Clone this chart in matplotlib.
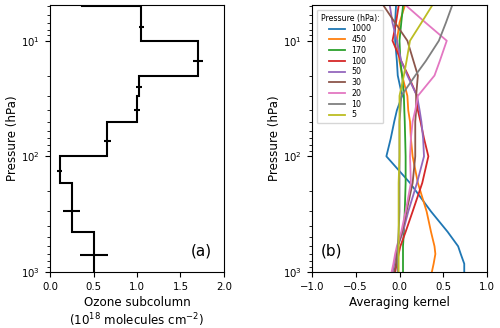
import matplotlib
matplotlib.use('Agg')
import matplotlib.pyplot as plt
import numpy as np

plt.rcParams.update({
    'font.family': 'DejaVu Sans',
    'xtick.labelsize': 7.3,
    'ytick.labelsize': 7.3,
    'axes.labelsize': 8.6,
})

# ─── panel (a): ozone subcolumns per layer ───────────────────────────
layer_edges = [1000, 450, 170, 100, 50, 30, 20, 10, 5, 1]
subcolumn = [0.51, 0.25, 0.11, 0.66, 1.0, 1.025, 1.7, 1.05, 0.37]
layer_mid = [720, 300, 135, 74, 40, 25, 15, 7.6]
subcol_err = [0.16, 0.10, 0.03, 0.045, 0.04, 0.035, 0.055, 0.03]

# ─── panel (b): averaging kernel rows ────────────────────────────────
ak_pres = [1000, 850, 700, 600, 450, 300, 170, 100, 70, 50, 40, 30, 20, 15, 10, 7, 5]
ak_1000 = [0.74, 0.74, 0.70, 0.67, 0.55, 0.36, 0.12, -0.15, -0.10, -0.06, -0.03, 0.03, -0.02, -0.03, -0.05, -0.05, -0.04]
ak_450 = [0.37, 0.39, 0.41, 0.40, 0.36, 0.31, 0.21, 0.15, 0.13, 0.12, 0.10, 0.09, 0.03, 0.0, -0.03, 0.0, 0.06]
ak_170 = [0.04, 0.04, 0.04, 0.04, 0.05, 0.06, 0.07, 0.07, 0.065, 0.06, 0.055, 0.05, 0.03, 0.01, 0.0, 0.02, 0.04]
ak_100 = [-0.05, -0.03, -0.01, 0.01, 0.07, 0.15, 0.26, 0.33, 0.28, 0.24, 0.21, 0.20, 0.10, 0.02, -0.08, -0.04, -0.01]
ak_50 = [-0.08, -0.06, -0.04, -0.02, 0.04, 0.10, 0.20, 0.28, 0.27, 0.25, 0.23, 0.20, 0.09, 0.02, -0.03, -0.08, -0.11]
ak_30 = [-0.06, -0.04, -0.03, -0.02, 0.03, 0.08, 0.15, 0.18, 0.18, 0.18, 0.19, 0.19, 0.21, 0.16, 0.09, -0.05, -0.18]
ak_20 = [-0.09, -0.07, -0.05, -0.03, 0.02, 0.07, 0.13, 0.12, 0.13, 0.15, 0.18, 0.21, 0.40, 0.46, 0.54, 0.30, 0.08]
ak_10 = [-0.02, -0.02, -0.02, -0.02, -0.01, 0.0, 0.0, 0.0, 0.0, 0.0, 0.01, 0.02, 0.18, 0.30, 0.45, 0.53, 0.60]
ak_5 = [-0.01, -0.01, -0.01, -0.01, -0.01, -0.01, -0.01, 0.0, 0.0, 0.0, 0.0, 0.0, 0.05, 0.08, 0.12, 0.25, 0.37]
ak_rows = [ak_1000, ak_450, ak_170, ak_100, ak_50, ak_30, ak_20, ak_10, ak_5]
ak_labels = ['1000', '450', '170', '100', '50', '30', '20', '10', '5']

fig = plt.figure(figsize=(5.0, 3.28), dpi=100)
ax1 = fig.add_axes([0.100, 0.171, 0.348, 0.814])
ax2 = fig.add_axes([0.624, 0.171, 0.350, 0.814])

# stairs wants increasing edges
ax1.stairs(subcolumn[::-1], layer_edges[::-1], orientation='horizontal',
           baseline=None, color='black', lw=1.5, zorder=3)
ax1.errorbar(subcolumn[:len(layer_mid)], layer_mid, xerr=subcol_err,
             fmt='none', ecolor='black', elinewidth=1.5, capsize=0)
ax1.set_xlim(0, 2)
ax1.set_xticks([0.0, 0.5, 1.0, 1.5, 2.0])
ax1.set_xlabel('Ozone subcolumn\n(10$^{18}$ molecules cm$^{-2}$)', labelpad=3)
ax1.text(0.93, 0.05, '(a)', transform=ax1.transAxes, ha='right', va='bottom',
         fontsize=11)

for row, lab in zip(ak_rows, ak_labels):
    ax2.plot(row, ak_pres, lw=1.3, label=lab)
ax2.set_xlim(-1, 1)
ax2.set_xticks([-1.0, -0.5, 0.0, 0.5, 1.0])
ax2.set_xlabel('Averaging kernel', labelpad=3)
ax2.text(0.05, 0.05, '(b)', transform=ax2.transAxes, ha='left', va='bottom',
         fontsize=11)
ax2.legend(title='Pressure (hPa):', fontsize=5.7, title_fontsize=5.7,
           loc='upper left', labelspacing=0.22, handlelength=2.0,
           borderaxespad=0.6, borderpad=0.5)

# top slightly above 5 hPa so the topmost step stays visible
for ax in (ax1, ax2):
    ax.set_yscale('log')
    ax.set_ylim(1000, 4.9)
    ax.set_ylabel('Pressure (hPa)', labelpad=2)

fig.savefig('out.png', dpi=100)
